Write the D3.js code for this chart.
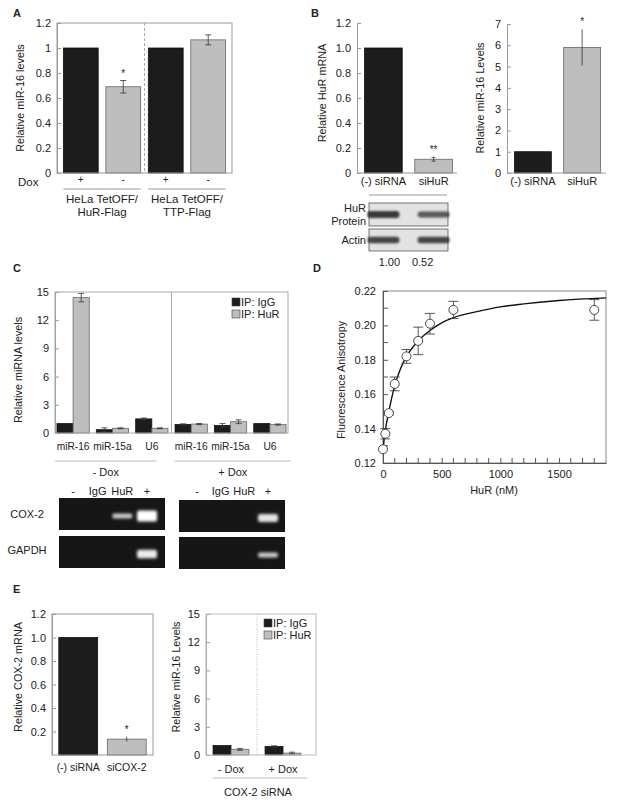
<!DOCTYPE html>
<html>
<head>
<meta charset="utf-8">
<script src="https://cdn.jsdelivr.net/npm/d3@7"></script>
<style>
  body { margin: 0; background: #fff; }
  text { font-family: "Liberation Sans", Arial, Helvetica, sans-serif; fill: #222; }
</style>
</head>
<body>
<div id="fig"></div>
<script>
// ---- Panel A: miR-16 in HeLa TetOFF lines
const aDox = ['+', '-', '+', '-'];
const aValues = [1, 0.69, 1, 1.065];
const aErrors = [0, 0.05, 0, 0.04];
const aStars = ['', '*', '', ''];
const aGroups = [['HeLa TetOFF/', 'HuR-Flag'], ['HeLa TetOFF/', 'TTP-Flag']];
const aTicks = [0, 0.2, 0.4, 0.6, 0.8, 1, 1.2];

// ---- Panel B: HuR knockdown
const bLabels = ['(-) siRNA', 'siHuR'];
const bHurMrna = [1.0, 0.11];
const bHurErr = [0, 0.015];
const bHurStars = ['', '**'];
const bHurTicks = [0, 0.2, 0.4, 0.6, 0.8, 1.0, 1.2];
const bMir16 = [1, 5.9];
const bMir16Err = [0, 0.85];
const bMir16Stars = ['', '*'];
const bMir16Ticks = [0, 1, 2, 3, 4, 5, 6, 7];
const bBlotHuR = [1.0, 0.6];
const bBlotActin = [0.85, 0.85];
const bBlotRatio = ['1.00', '0.52'];

// ---- Panel C: RNP IP
const cLabels = ['miR-16', 'miR-15a', 'U6', 'miR-16', 'miR-15a', 'U6'];
const cIgG = [1.0, 0.35, 1.5, 0.9, 0.8, 1.0];
const cIgGErr = [0, 0.2, 0.1, 0.08, 0.2, 0];
const cHuR = [14.4, 0.5, 0.5, 0.95, 1.2, 0.9];
const cHuRErr = [0.45, 0.05, 0.05, 0.06, 0.2, 0.06];
const cConditions = ['- Dox', '+ Dox'];
const cTicks = [0, 3, 6, 9, 12, 15];
const gelLanes = ['-', 'IgG', 'HuR', '+'];
const gelCox2Minus = [0, 0, 0.6, 1];
const gelGapdhMinus = [0, 0, 0, 0.85];
const gelCox2Plus = [0, 0, 0, 0.8];
const gelGapdhPlus = [0, 0, 0, 0.6];

// ---- Panel D: anisotropy binding
const dConc = [0, 20, 50, 100, 200, 300, 400, 600, 1800];
const dAniso = [0.128, 0.137, 0.149, 0.166, 0.182, 0.191, 0.201, 0.209, 0.209];
const dErr = [0, 0.003, 0.001, 0.004, 0.004, 0.008, 0.006, 0.005, 0.006];
const dFitConc = [0, 20, 50, 100, 150, 200, 300, 400, 500, 600, 800, 1000, 1200, 1500, 1900];
const dFitAniso = [0.128, 0.139, 0.150, 0.165, 0.175, 0.182, 0.191, 0.197, 0.2015, 0.2045, 0.208, 0.2108, 0.2125, 0.2145, 0.216];
const dYTicks = [0.12, 0.14, 0.16, 0.18, 0.20, 0.22];
const dXTicks = [0, 500, 1000, 1500];

// ---- Panel E: COX-2 knockdown
const eLabels = ['(-) siRNA', 'siCOX-2'];
const eCox2 = [1.0, 0.135];
const eCox2Err = [0, 0.02];
const eCox2Stars = ['', '*'];
const eCox2Ticks = [0.2, 0.4, 0.6, 0.8, 1.0, 1.2];
const eConditions = ['- Dox', '+ Dox'];
const eIgG = [1.0, 0.9];
const eIgGErr = [0, 0.08];
const eHuR = [0.6, 0.2];
const eHuRErr = [0.1, 0.1];
const eTicks = [0, 3, 6, 9, 12, 15];

const BLACK = '#1c1c1c';
const GRAY = '#bebebe';
const AXIS = '#999';
const FS = 11;
const LS = 11.5;

const svg = d3.select('#fig').append('svg')
  .attr('width', 619).attr('height', 805)
  .style('background', '#fff');

const defs = svg.append('defs');
defs.append('filter').attr('id', 'blur').attr('x', '-50%').attr('y', '-100%')
  .attr('width', '200%').attr('height', '300%')
  .append('feGaussianBlur').attr('stdDeviation', 1.6);
defs.append('filter').attr('id', 'blotblur').attr('x', '-50%').attr('y', '-100%')
  .attr('width', '200%').attr('height', '300%')
  .append('feGaussianBlur').attr('stdDeviation', 1.3);

function panelLetter(t, x, y) {
  svg.append('text').attr('x', x).attr('y', y).attr('font-size', 11)
    .attr('font-weight', 'bold').text(t);
}

function yAxis(y, x, ticks, fmt) {
  const ax = svg.append('g').attr('transform', `translate(${x},0)`)
    .call(d3.axisLeft(y).tickValues(ticks).tickFormat(fmt)
      .tickSize(-4).tickSizeOuter(0).tickPadding(6));
  ax.attr('font-family', null);
  ax.select('.domain').attr('stroke', AXIS);
  ax.selectAll('.tick line').attr('stroke', AXIS);
  ax.selectAll('.tick text').attr('font-size', FS).attr('fill', '#222');
  return ax;
}

function yTitle(text, x, cy) {
  svg.append('text').attr('transform', `translate(${x},${cy}) rotate(-90)`)
    .attr('text-anchor', 'middle').attr('font-size', 10.8).text(text);
}

function hline(x1, x2, yy, color) {
  svg.append('line').attr('x1', x1).attr('x2', x2).attr('y1', yy).attr('y2', yy)
    .attr('stroke', color || AXIS).attr('stroke-width', 1);
}

function label(t, x, yy, anchor, size) {
  return svg.append('text').attr('x', x).attr('y', yy)
    .attr('text-anchor', anchor || 'middle').attr('font-size', size || LS).text(t);
}

function drawBars(xs, w, values, y, fill) {
  svg.append('g').selectAll('rect').data(values).join('rect')
    .attr('x', (d, i) => xs[i]).attr('width', w)
    .attr('y', d => y(d)).attr('height', d => y.range()[0] - y(d))
    .attr('fill', fill).attr('stroke', fill === GRAY ? '#666' : '#111')
    .attr('stroke-width', 0.8);
}

function drawErrors(cxs, values, errs, y, cap) {
  const g = svg.append('g').attr('stroke', '#333').attr('stroke-width', 0.8);
  values.forEach((v, i) => {
    if (!errs[i]) return;
    const cx = cxs[i], t = y(v + errs[i]), b = y(v - errs[i]);
    g.append('line').attr('x1', cx).attr('x2', cx).attr('y1', t).attr('y2', b);
    g.append('line').attr('x1', cx - cap).attr('x2', cx + cap).attr('y1', t).attr('y2', t);
    g.append('line').attr('x1', cx - cap).attr('x2', cx + cap).attr('y1', b).attr('y2', b);
  });
}

function drawStars(cxs, values, errs, stars, y) {
  stars.forEach((s, i) => {
    if (!s) return;
    label(s, cxs[i], y(values[i] + errs[i]) - 4, 'middle', 10);
  });
}

const fmt1 = d => d === 0 ? '0' : d3.format('.1f')(d);

// ================= Panel A =================
panelLetter('A', 13, 17);
{
  const x = d3.scaleBand().domain(d3.range(aValues.length)).range([57, 232])
    .paddingInner(0.18).paddingOuter(0.15);
  const y = d3.scaleLinear().domain([0, 1.2]).range([173, 23]);
  const colors = aDox.map(d => d === '+' ? BLACK : GRAY);
  aValues.forEach((v, i) => drawBars([x(i)], x.bandwidth(), [v], y, colors[i]));
  const cx = aValues.map((d, i) => x(i) + x.bandwidth() / 2);
  drawErrors(cx, aValues, aErrors, y, 3);
  drawStars(cx, aValues, aErrors, aStars, y);
  yAxis(y, 57, aTicks, d => String(d));
  svg.append('rect').attr('x', 57).attr('y', 23).attr('width', 175).attr('height', 150)
    .attr('fill', 'none').attr('stroke', AXIS);
  const sep = (x(1) + x.bandwidth() + x(2)) / 2;
  svg.append('line').attr('x1', sep).attr('x2', sep).attr('y1', 23).attr('y2', 173)
    .attr('stroke', '#aaa').attr('stroke-dasharray', '3,2');
  label('Dox', 18, 186, 'start', 11.5);
  aDox.forEach((d, i) => label(d, cx[i], 183, 'middle', 10));
  aGroups.forEach((lines, gi) => {
    const x1 = x(gi * 2), x2 = x(gi * 2 + 1) + x.bandwidth();
    hline(x1, x2, 189);
    lines.forEach((t, li) => label(t, (x1 + x2) / 2, 203 + li * 13));
  });
  yTitle('Relative miR-16 levels', 24, 98);
}

// ================= Panel B =================
panelLetter('B', 311, 17);
{
  const x = d3.scaleBand().domain(d3.range(bLabels.length)).range([357, 460])
    .paddingInner(0.25).paddingOuter(0.15);
  const y = d3.scaleLinear().domain([0, 1.2]).range([173, 23]);
  const cx = bLabels.map((d, i) => x(i) + x.bandwidth() / 2);
  drawBars([x(0)], x.bandwidth(), [bHurMrna[0]], y, BLACK);
  drawBars([x(1)], x.bandwidth(), [bHurMrna[1]], y, GRAY);
  drawErrors(cx, bHurMrna, bHurErr, y, 2);
  drawStars(cx, bHurMrna, bHurErr, bHurStars, y);
  yAxis(y, 357, bHurTicks, fmt1);
  hline(357, 457, 173);
  bLabels.forEach((t, i) => label(t, cx[i], 185, 'middle', 11));
  hline(369, 447, 195);
  yTitle('Relative HuR mRNA', 326, 93);

  // western blot
  const blots = [
    { name: ['HuR', 'Protein'], vals: bBlotHuR, y0: 203, h: 23 },
    { name: ['Actin'], vals: bBlotActin, y0: 229, h: 22 }
  ];
  blots.forEach(b => {
    svg.append('rect').attr('x', 369).attr('y', b.y0).attr('width', 79).attr('height', b.h)
      .attr('fill', '#e2e2e2').attr('stroke', '#555').attr('stroke-width', 0.8);
    b.vals.forEach((v, i) => {
      svg.append('rect').attr('x', cx[i] - 16).attr('width', 32)
        .attr('y', b.y0 + b.h / 2 - 2 - v * 1.5).attr('height', 4 + v * 3)
        .attr('rx', 3).attr('fill', '#1a1a1a').attr('opacity', 0.45 + 0.4 * v)
        .attr('filter', 'url(#blotblur)');
    });
    if (b.name.length === 2) {
      label(b.name[0], 355, b.y0 + 9, 'middle', 11);
      label(b.name[1], 366, b.y0 + 22, 'end', 11);
    } else {
      label(b.name[0], 366, b.y0 + b.h / 2 + 4, 'end', 11);
    }
  });
  bBlotRatio.forEach((t, i) => label(t, cx[i] + (i ? -11 : 6), 266, 'middle', 11));
}
{
  const x = d3.scaleBand().domain(d3.range(bLabels.length)).range([507, 608])
    .paddingInner(0.25).paddingOuter(0.15);
  const y = d3.scaleLinear().domain([0, 7]).range([173, 24]);
  const cx = bLabels.map((d, i) => x(i) + x.bandwidth() / 2);
  drawBars([x(0)], x.bandwidth(), [bMir16[0]], y, BLACK);
  drawBars([x(1)], x.bandwidth(), [bMir16[1]], y, GRAY);
  drawErrors(cx, bMir16, bMir16Err, y, 0);
  drawStars(cx, bMir16, bMir16Err, bMir16Stars, y);
  yAxis(y, 507, bMir16Ticks, d => String(d));
  hline(507, 606, 173);
  bLabels.forEach((t, i) => label(t, cx[i], 185, 'middle', 11));
  yTitle('Relative miR-16 Levels', 484, 98);
}

// ================= Panel C =================
panelLetter('C', 13, 272);
{
  const x = d3.scaleBand().domain(d3.range(cLabels.length)).range([55, 288])
    .paddingInner(0.18).paddingOuter(0.05);
  const sub = d3.scaleBand().domain(['IgG', 'HuR']).range([0, x.bandwidth()]);
  const y = d3.scaleLinear().domain([0, 15]).range([433, 292]);
  const xIgG = cLabels.map((d, i) => x(i) + sub('IgG'));
  const xHuR = cLabels.map((d, i) => x(i) + sub('HuR'));
  drawBars(xIgG, sub.bandwidth(), cIgG, y, BLACK);
  drawBars(xHuR, sub.bandwidth(), cHuR, y, GRAY);
  drawErrors(xIgG.map(v => v + sub.bandwidth() / 2), cIgG, cIgGErr, y, 3);
  drawErrors(xHuR.map(v => v + sub.bandwidth() / 2), cHuR, cHuRErr, y, 3);
  yAxis(y, 55, cTicks, d => String(d));
  svg.append('rect').attr('x', 55).attr('y', 292).attr('width', 233).attr('height', 141)
    .attr('fill', 'none').attr('stroke', '#aaa');
  const sep = (x(2) + x.bandwidth() + x(3)) / 2;
  svg.append('line').attr('x1', sep).attr('x2', sep).attr('y1', 292).attr('y2', 433)
    .attr('stroke', '#aaa');
  cLabels.forEach((t, i) => label(t, x(i) + x.bandwidth() / 2, 450, 'middle', 10.2));
  hline(55, sep - 15, 461, '#bbb');
  hline(sep + 3, 291, 461, '#bbb');
  label(cConditions[0], (55 + sep - 15) / 2, 476, 'middle', 11);
  label(cConditions[1], (sep + 3 + 291) / 2, 476, 'middle', 11);
  // legend
  [['IP: IgG', BLACK], ['IP: HuR', GRAY]].forEach((d, i) => {
    svg.append('rect').attr('x', 232).attr('y', 298 + i * 12).attr('width', 8).attr('height', 8)
      .attr('fill', d[1]).attr('stroke', '#444').attr('stroke-width', 0.6);
    label(d[0], 241, 306 + i * 12, 'start', 11);
  });
  yTitle('Relative miRNA levels', 22, 370);

  // gels
  const gels = [
    { x0: 59, lanes: [73, 147], cox: gelCox2Minus, gap: gelGapdhMinus, yc: 498, yg: 536 },
    { x0: 179, lanes: [197, 268], cox: gelCox2Plus, gap: gelGapdhPlus, yc: 500, yg: 537 }
  ];
  gels.forEach(gel => {
    const lx = d3.scalePoint().domain(gelLanes).range(gel.lanes);
    gelLanes.forEach(l => label(l, lx(l), 495, 'middle', 11));
    [[gel.yc, gel.cox], [gel.yg, gel.gap]].forEach(([y0, vals]) => {
      svg.append('rect').attr('x', gel.x0).attr('y', y0).attr('width', 106).attr('height', 32)
        .attr('fill', '#161616');
      vals.forEach((v, i) => {
        if (!v) return;
        const h = 2 + 9 * v * v;
        svg.append('rect').attr('x', lx(gelLanes[i]) - 10).attr('width', 20)
          .attr('y', y0 + 18 - h / 2).attr('height', h).attr('rx', 2)
          .attr('fill', '#fff').attr('opacity', 0.45 + 0.55 * v)
          .attr('filter', 'url(#blur)');
      });
    });
  });
  label('COX-2', 27, 518, 'middle', 11);
  label('GAPDH', 27, 554, 'middle', 11);
}

// ================= Panel D =================
panelLetter('D', 313, 272);
{
  const x = d3.scaleLinear().domain([0, 1900]).range([383, 606]);
  const y = d3.scaleLinear().domain([0.12, 0.22]).range([463, 291]);
  svg.append('rect').attr('x', 383).attr('y', 291).attr('width', 223).attr('height', 172)
    .attr('fill', 'none').attr('stroke', '#888');
  const ay = svg.append('g').attr('transform', 'translate(383,0)')
    .call(d3.axisLeft(y).tickValues(dYTicks).tickFormat(d3.format('.2f'))
      .tickSize(-5).tickSizeOuter(0).tickPadding(7));
  const ax = svg.append('g').attr('transform', 'translate(0,463)')
    .call(d3.axisBottom(x).tickValues(dXTicks).tickFormat(d3.format('d'))
      .tickSize(-5).tickSizeOuter(0).tickPadding(7));
  [ay, ax].forEach(a => {
    a.attr('font-family', null);
    a.select('.domain').attr('stroke', '#555');
    a.selectAll('.tick line').attr('stroke', '#555');
    a.selectAll('.tick text').attr('font-size', FS).attr('fill', '#222');
  });
  // minor ticks
  svg.append('g').selectAll('line').data(d3.range(0.13, 0.22, 0.02)).join('line')
    .attr('x1', 383).attr('x2', 388).attr('y1', d => y(d)).attr('y2', d => y(d))
    .attr('stroke', '#555');
  svg.append('g').selectAll('line').data(d3.range(100, 1900, 100).filter(d => d % 500)).join('line')
    .attr('y1', 463).attr('y2', 458).attr('x1', d => x(d)).attr('x2', d => x(d))
    .attr('stroke', '#555');

  const line = d3.line().x((d, i) => x(dFitConc[i])).y(d => y(d)).curve(d3.curveMonotoneX);
  svg.append('path').attr('d', line(dFitAniso)).attr('fill', 'none')
    .attr('stroke', '#111').attr('stroke-width', 1.4);

  const eg = svg.append('g').attr('stroke', '#444').attr('stroke-width', 0.9);
  dConc.forEach((c, i) => {
    if (!dErr[i]) return;
    const cx = x(c), t = y(dAniso[i] + dErr[i]), b = y(dAniso[i] - dErr[i]);
    eg.append('line').attr('x1', cx).attr('x2', cx).attr('y1', t).attr('y2', b);
    eg.append('line').attr('x1', cx - 5).attr('x2', cx + 5).attr('y1', t).attr('y2', t);
    eg.append('line').attr('x1', cx - 5).attr('x2', cx + 5).attr('y1', b).attr('y2', b);
  });
  svg.append('g').selectAll('circle').data(dAniso).join('circle')
    .attr('cx', (d, i) => x(dConc[i])).attr('cy', d => y(d)).attr('r', 4.5)
    .attr('fill', '#fff').attr('stroke', '#333').attr('stroke-width', 0.9);

  label('HuR (nM)', 494, 494, 'middle', 11);
  yTitle('Fluorescence Anisotropy', 345, 380);
}

// ================= Panel E =================
panelLetter('E', 13, 593);
{
  const x = d3.scaleBand().domain(d3.range(eLabels.length)).range([52, 153])
    .paddingInner(0.2).paddingOuter(0.14);
  const y = d3.scaleLinear().domain([0, 1.2]).range([755, 614]);
  const cx = eLabels.map((d, i) => x(i) + x.bandwidth() / 2);
  drawBars([x(0)], x.bandwidth(), [eCox2[0]], y, BLACK);
  drawBars([x(1)], x.bandwidth(), [eCox2[1]], y, GRAY);
  drawErrors(cx, eCox2, eCox2Err, y, 0);
  drawStars(cx, eCox2, eCox2Err, eCox2Stars, y);
  yAxis(y, 52, eCox2Ticks, fmt1);
  svg.append('rect').attr('x', 52).attr('y', 614).attr('width', 101).attr('height', 141)
    .attr('fill', 'none').attr('stroke', AXIS);
  eLabels.forEach((t, i) => label(t, cx[i], 771, 'middle', 10.5));
  yTitle('Relative COX-2 mRNA', 22, 677);
}
{
  const x = d3.scaleBand().domain(d3.range(eConditions.length)).range([204, 310])
    .paddingInner(0.31).paddingOuter(0.174);
  const sub = d3.scaleBand().domain(['IgG', 'HuR']).range([0, x.bandwidth()]);
  const y = d3.scaleLinear().domain([0, 15]).range([755, 614]);
  const xIgG = eConditions.map((d, i) => x(i) + sub('IgG'));
  const xHuR = eConditions.map((d, i) => x(i) + sub('HuR'));
  drawBars(xIgG, sub.bandwidth(), eIgG, y, BLACK);
  drawBars(xHuR, sub.bandwidth(), eHuR, y, GRAY);
  drawErrors(xIgG.map(v => v + sub.bandwidth() / 2), eIgG, eIgGErr, y, 3);
  drawErrors(xHuR.map(v => v + sub.bandwidth() / 2), eHuR, eHuRErr, y, 3);
  yAxis(y, 206, eTicks, d => String(d));
  svg.append('rect').attr('x', 206).attr('y', 614).attr('width', 110).attr('height', 141)
    .attr('fill', 'none').attr('stroke', '#bbb');
  const sep = (x(0) + x.bandwidth() + x(1)) / 2;
  svg.append('line').attr('x1', sep).attr('x2', sep).attr('y1', 614).attr('y2', 755)
    .attr('stroke', '#bbb').attr('stroke-dasharray', '1,1.5');
  eConditions.forEach((t, i) => label(t, x(i) + x.bandwidth() / 2, 773, 'middle', 11));
  hline(213, 307, 778, '#bbb');
  label('COX-2 siRNA', 258, 796, 'middle', 11);
  [['IP: IgG', BLACK], ['IP: HuR', GRAY]].forEach((d, i) => {
    svg.append('rect').attr('x', 264).attr('y', 619 + i * 12).attr('width', 8).attr('height', 8)
      .attr('fill', d[1]).attr('stroke', '#444').attr('stroke-width', 0.6);
    label(d[0], 273, 627 + i * 12, 'start', 11);
  });
  yTitle('Relative miR-16 Levels', 180, 677);
}
</script>
</body>
</html>
